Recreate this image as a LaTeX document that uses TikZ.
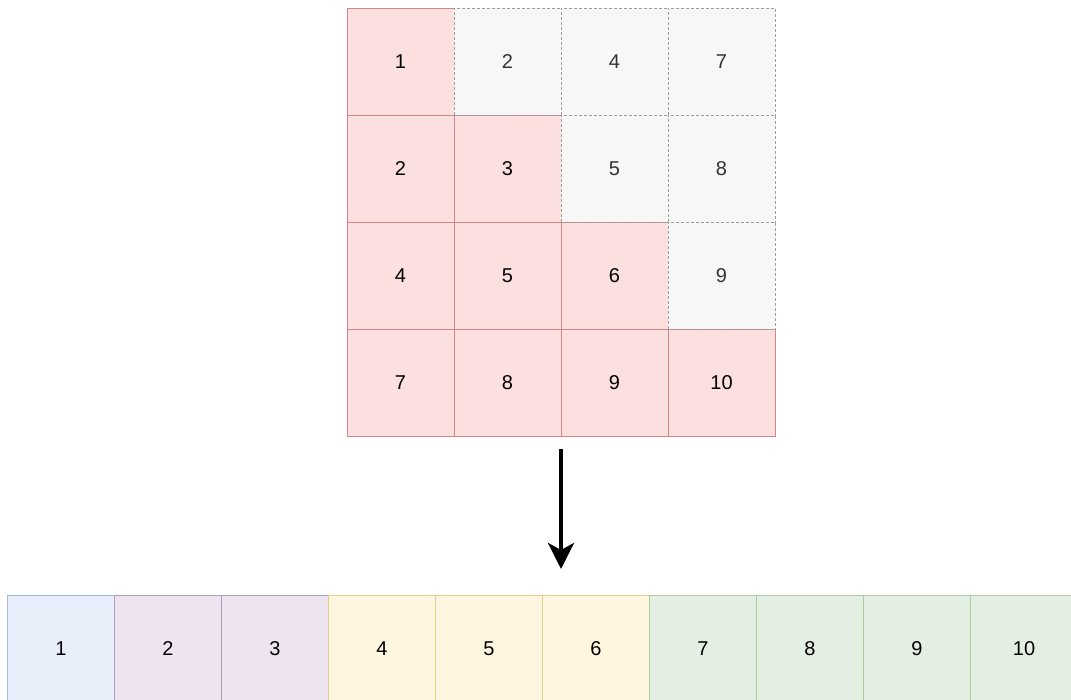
\documentclass[tikz,border=0pt]{standalone}
\usepackage{fontspec}
\setmainfont{Liberation Sans}
\usetikzlibrary{arrows.meta}
\definecolor{redF}{HTML}{FCDFDF}
\definecolor{redS}{HTML}{D48585}
\definecolor{greyF}{HTML}{F7F7F7}
\definecolor{greyS}{HTML}{9E9E9E}
\definecolor{blueF}{HTML}{E8EFFB}
\definecolor{blueS}{HTML}{A3BADF}
\definecolor{purpF}{HTML}{EDE4F0}
\definecolor{purpS}{HTML}{B39DC2}
\definecolor{yelF}{HTML}{FFF6DF}
\definecolor{yelS}{HTML}{E6CE88}
\definecolor{grnF}{HTML}{E3EFE2}
\definecolor{grnS}{HTML}{A9CD98}
\tikzset{
  cell/.style={minimum width=107pt, minimum height=107pt, inner sep=0pt, outer sep=0pt,
     font=\fontsize{20}{24}\selectfont, text=black, line width=0.8pt},
  redcell/.style={cell, fill=redF, draw=redS},
  greycell/.style={cell, fill=greyF, draw=greyS, dashed, dash pattern=on 3pt off 2pt, text=black!80},
  bluecell/.style={cell, fill=blueF, draw=blueS},
  purpcell/.style={cell, fill=purpF, draw=purpS},
  yelcell/.style={cell, fill=yelF, draw=yelS},
  grncell/.style={cell, fill=grnF, draw=grnS},
  bigarrow/.style={line width=4pt, -{Stealth[length=26pt, width=26pt, inset=7pt]}}
}
\begin{document}
\begin{tikzpicture}[x=1pt, y=-1pt]
\useasboundingbox (0,0) rectangle (1071,699);
% lower triangle (red)
\node[redcell] (a11) at (400.5,61.5) {1};
\node[redcell] (a21) at (400.5,168.5) {2};
\node[redcell] (a22) at (507.5,168.5) {3};
\node[redcell] (a31) at (400.5,275.5) {4};
\node[redcell] (a32) at (507.5,275.5) {5};
\node[redcell] (a33) at (614.5,275.5) {6};
\node[redcell] (a41) at (400.5,382.5) {7};
\node[redcell] (a42) at (507.5,382.5) {8};
\node[redcell] (a43) at (614.5,382.5) {9};
\node[redcell] (a44) at (721.5,382.5) {10};
% upper triangle (grey, dashed)
\node[greycell] (a12) at (507.5,61.5) {2};
\node[greycell] (a13) at (614.5,61.5) {4};
\node[greycell] (a14) at (721.5,61.5) {7};
\node[greycell] (a23) at (614.5,168.5) {5};
\node[greycell] (a24) at (721.5,168.5) {8};
\node[greycell] (a34) at (721.5,275.5) {9};
% arrow
\coordinate (arrS) at (561,449);
\coordinate (arrE) at (561,569);
\draw[bigarrow] (arrS) -- (arrE);
% packed array
\node[bluecell] (b1) at (61,648.5) {1};
\node[purpcell] (b2) at (168,648.5) {2};
\node[purpcell] (b3) at (275,648.5) {3};
\node[yelcell] (b4) at (382,648.5) {4};
\node[yelcell] (b5) at (489,648.5) {5};
\node[yelcell] (b6) at (596,648.5) {6};
\node[grncell] (b7) at (703,648.5) {7};
\node[grncell] (b8) at (810,648.5) {8};
\node[grncell] (b9) at (917,648.5) {9};
\node[grncell] (b10) at (1024,648.5) {10};
\end{tikzpicture}
\end{document}
